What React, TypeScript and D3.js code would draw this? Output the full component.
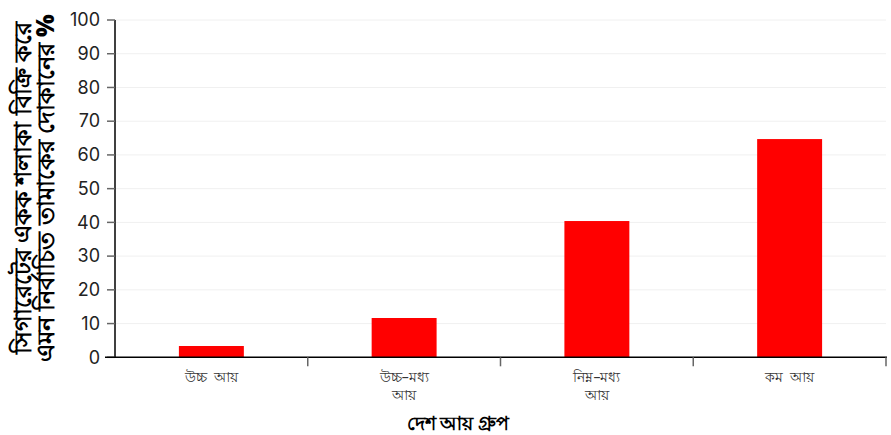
import React from "react";
import * as d3 from "d3";

const categories = ["উচ্চ আয়", "উচ্চ-মধ্য আয়", "নিম্ন-মধ্য আয়", "কম আয়"];
const categoryLines = [["উচ্চ\u00a0\u00a0আয়"], ["উচ্চ–মধ্য", "আয়"], ["নিম্ন–মধ্য", "আয়"], ["কম\u00a0\u00a0আয়"]];
const values = [3.35, 11.65, 40.4, 64.7];
const yTicks = [0, 10, 20, 30, 40, 50, 60, 70, 80, 90, 100];
const yLabelLines = ["সিগারেটের একক শলাকা বিক্রি করে", "এমন নির্বাচিত তামাকের দোকানের %"];
const xLabel = "দেশ আয় গ্রুপ";

export default function App() {
  const W = 891, H = 435;
  const left = 115, right = 886, top = 20, bottom = 357.3;
  const x = d3.scaleBand<string>().domain(categories).range([left, right]).paddingInner(0).paddingOuter(0);
  const y = d3.scaleLinear().domain([0, 100]).range([bottom, top]);
  const bw = x.bandwidth() * 0.337;
  return (
    <svg width={W} height={H} style={{ position: "absolute", left: 0, top: 0 }}>
      <g>
        {yTicks.map((t) => (
          <line key={"g" + t} x1={left} x2={right} y1={y(t)} y2={y(t)} stroke="#f0f0f0" strokeWidth={1} />
        ))}
      </g>
      {categories.map((c, i) => (
        <rect key={c} x={x(c)! + x.bandwidth() / 2 - bw / 2} y={y(values[i])} width={bw} height={y(0) - y(values[i])} fill="#ff0000" />
      ))}
      {/* y axis */}
      <line x1={left} x2={left} y1={top} y2={bottom} stroke="#000" strokeWidth={1.5} />
      {yTicks.map((t) => (
        <g key={"t" + t}>
          <line x1={left - 8} x2={left} y1={y(t)} y2={y(t)} stroke="#666" strokeWidth={1.5} />
          <text x={left - 15} y={y(t)} dy="0.35em" textAnchor="end" fontFamily="Inter, 'Noto Sans', sans-serif" fontSize={18} fill="#222">{t}</text>
        </g>
      ))}
      {/* x axis */}
      <line x1={105} x2={887} y1={bottom} y2={bottom} stroke="#000" strokeWidth={1.5} />
      {categories.slice(1).concat(["end"]).map((c, i) => {
        const xx = i < 3 ? x(c)! : right;
        return <line key={"xt" + i} x1={xx} x2={xx} y1={bottom} y2={bottom + 9} stroke="#666" strokeWidth={1.5} />;
      })}
      {categories.map((c, i) =>
        categoryLines[i].map((ln, j) => (
          <text key={"xl" + c + j} x={x(c)! + x.bandwidth() / 2} y={382 + j * 18} textAnchor="middle" fontFamily="'Noto Sans', sans-serif" fontSize={14} fill="#333">{ln}</text>
        ))
      )}
      <text x={458} y={430} textAnchor="middle" fontFamily="'Noto Sans', sans-serif" fontSize={19} fontWeight="900" fill="#000">{xLabel}</text>
      <text transform={`translate(0, ${188}) rotate(-90)`} textAnchor="middle" fontFamily="'Noto Sans', sans-serif" fontSize={24} fontWeight="900" fill="#000">
        <tspan x={0} y={31}>{yLabelLines[0]}</tspan>
        <tspan x={0} y={54}>{yLabelLines[1]}</tspan>
      </text>
    </svg>
  );
}
